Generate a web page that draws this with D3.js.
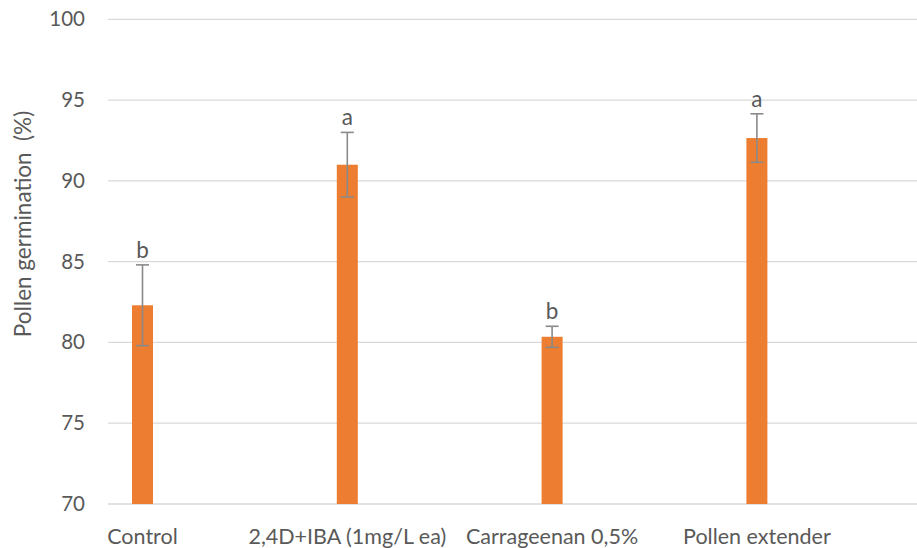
<!DOCTYPE html>
<html>
<head>
<meta charset="utf-8">
<script src="https://cdn.jsdelivr.net/npm/d3@7"></script>
<style>
  html, body { margin: 0; padding: 0; background: #fff; }
  svg text { font-family: Lato, "Open Sans", "DejaVu Sans", sans-serif; fill: #595959; }
</style>
</head>
<body>
<svg id="chart" width="917" height="548"></svg>
<script>
// Pollen germination by treatment (mean, standard error, significance group)
const categories = ["Control", "2,4D+IBA (1mg/L ea)", "Carrageenan 0,5%", "Pollen extender"];
const germination = [82.3, 91.0, 80.35, 92.65];
const errors = [2.5, 2.0, 0.65, 1.5];
const groups = ["b", "a", "b", "a"];
const yTicks = [70, 75, 80, 85, 90, 95, 100];

const svg = d3.select("#chart");
const W = 917;

const y = d3.scaleLinear().domain([70, 100]).range([504, 19.3]);
const x = d3.scalePoint().domain(categories).range([40.1, 859.3]).padding(0.5);
const barW = 21;

// horizontal gridlines
svg.append("g")
  .selectAll("line")
  .data(yTicks)
  .join("line")
  .attr("x1", 108).attr("x2", W)
  .attr("y1", d => y(d)).attr("y2", d => y(d))
  .attr("stroke", "#d9d9d9")
  .attr("stroke-width", 1.3);

// y axis tick labels
const yAxis = d3.axisLeft(y).tickValues(yTicks).tickSize(0).tickPadding(0);
const gy = svg.append("g").attr("transform", "translate(85,0)").call(yAxis);
gy.select(".domain").remove();
gy.selectAll("text")
  .attr("font-size", 20.5)
  .attr("fill", "#595959")
  .style("font-family", "Lato, 'Open Sans', sans-serif");

// y axis title
svg.append("text")
  .attr("transform", "translate(31,224) rotate(-90)")
  .attr("text-anchor", "middle")
  .attr("font-size", 22.5)
  .text("Pollen germination\u00a0\u00a0(%)");

// bars
svg.append("g")
  .selectAll("rect")
  .data(categories)
  .join("rect")
  .attr("x", d => x(d) - barW / 2)
  .attr("width", barW)
  .attr("y", (d, i) => y(germination[i]))
  .attr("height", (d, i) => y(70) - y(germination[i]))
  .attr("fill", "#ed7d31");

// error bars
const eb = svg.append("g").attr("stroke", "#8a8a8a").attr("stroke-width", 1.6);
categories.forEach((c, i) => {
  const cx = x(c), top = y(germination[i] + errors[i]), bot = y(germination[i] - errors[i]);
  eb.append("line").attr("x1", cx).attr("x2", cx).attr("y1", top).attr("y2", bot);
  eb.append("line").attr("x1", cx - 6.5).attr("x2", cx + 6.5).attr("y1", top).attr("y2", top);
  eb.append("line").attr("x1", cx - 6.5).attr("x2", cx + 6.5).attr("y1", bot).attr("y2", bot);
});

// significance letters
svg.append("g")
  .selectAll("text")
  .data(categories)
  .join("text")
  .attr("x", d => x(d))
  .attr("y", (d, i) => y(germination[i] + errors[i]) - 7)
  .attr("text-anchor", "middle")
  .attr("font-size", 22.5)
  .text((d, i) => groups[i]);

// category labels
svg.append("g")
  .selectAll("text")
  .data(categories)
  .join("text")
  .attr("x", d => x(d))
  .attr("y", 544)
  .attr("text-anchor", "middle")
  .attr("font-size", 21.5)
  .text(d => d);
</script>
</body>
</html>
